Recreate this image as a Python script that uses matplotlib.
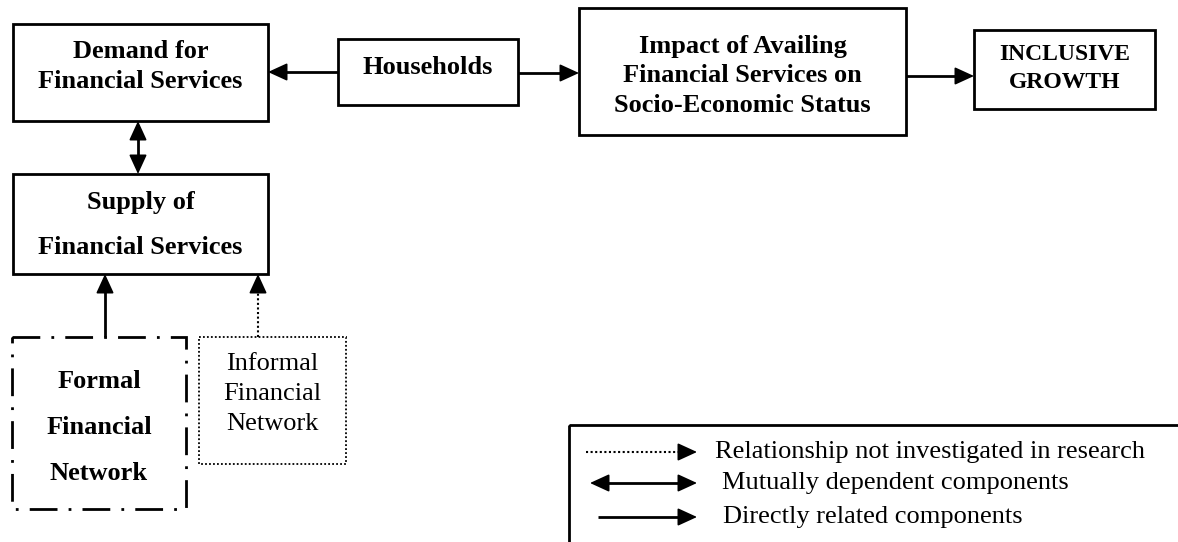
import matplotlib
matplotlib.use("Agg")
import matplotlib.pyplot as plt
from matplotlib.patches import Rectangle, FancyArrowPatch

plt.rcParams['font.family'] = ['Liberation Serif', 'DejaVu Serif']

# box texts
box_names = ["demand", "households", "impact", "inclusive", "supply", "formal", "informal"]
box_lines = [
    ["Demand for", "Financial Services"],
    ["Households"],
    ["Impact of Availing", "Financial Services on", "Socio-Economic Status"],
    ["INCLUSIVE", "GROWTH"],
    ["Supply of", "Financial Services"],
    ["Formal", "Financial", "Network"],
    ["Informal", "Financial", "Network"],
]
# links between boxes: (from, to, kind)
links = [
    ("households", "demand", "direct"),
    ("households", "impact", "direct"),
    ("impact", "inclusive", "direct"),
    ("demand", "supply", "mutual"),
    ("formal", "supply", "direct"),
    ("informal", "supply", "dotted"),
]
legend_labels = [
    "Relationship not investigated in research",
    "Mutually dependent components",
    "Directly related components",
]
legend_kinds = ["dotted", "mutual", "direct"]

# layout in pixels (x0, y0, x1, y1), text line y centres
layout = {
    "demand":     dict(box=(13, 24, 268, 121), ys=[52, 82], size=19, weight="bold", ls="-"),
    "households": dict(box=(338, 39, 518, 105), ys=[68], size=19, weight="bold", ls="-"),
    "impact":     dict(box=(579, 8, 906, 135), ys=[46, 76, 105], size=19, weight="bold", ls="-"),
    "inclusive":  dict(box=(974, 30, 1155, 109), ys=[55, 83], size=17, weight="bold", ls="-"),
    "supply":     dict(box=(13, 174, 268, 274), ys=[202, 248], size=19, weight="bold", ls="-"),
    "formal":     dict(box=(12, 337, 186, 509), ys=[381, 427, 473], size=19, weight="bold",
                       ls=(0, (10, 4, 1, 4))),
    "informal":   dict(box=(199, 337, 346, 464), ys=[364, 394, 424], size=19, weight="normal",
                       ls=(0, (1, 1.2))),
}
link_points = {
    ("households", "demand"): ((338, 72), (268, 72)),
    ("households", "impact"): ((518, 73), (579, 73)),
    ("impact", "inclusive"): ((906, 76), (974, 76)),
    ("demand", "supply"): ((138, 121), (138, 174)),
    ("formal", "supply"): ((105, 337), (105, 274)),
    ("informal", "supply"): ((258, 337), (258, 274)),
}

W, H = 1178, 542
fig = plt.figure(figsize=(W / 100, H / 100), dpi=100)
ax = fig.add_axes([0, 0, 1, 1])
ax.set_xlim(0, W)
ax.set_ylim(H, 0)
ax.axis("off")


def head(p_from, p_to):
    ax.add_patch(FancyArrowPatch(p_from, p_to, arrowstyle="-|>,head_length=1.2,head_width=0.55",
                                 mutation_scale=10, color="black", lw=1.2,
                                 shrinkA=0, shrinkB=0))


def arrow(p0, p1, kind, hl=16):
    (x0, y0), (x1, y1) = p0, p1
    dx, dy = x1 - x0, y1 - y0
    n = (dx ** 2 + dy ** 2) ** 0.5
    ux, uy = dx / n, dy / n
    sx, sy = (x0 + ux * hl, y0 + uy * hl) if kind == "mutual" else (x0, y0)
    ex, ey = x1 - ux * hl, y1 - uy * hl
    if kind == "dotted":
        ax.plot([sx, ex], [sy, ey], color="black", lw=1.5,
                ls=(0, (1, 1.2)), solid_capstyle="butt")
    else:
        ax.plot([sx, ex], [sy, ey], color="black", lw=2.0, solid_capstyle="butt")
    head((ex, ey), (x1, y1))
    if kind == "mutual":
        head((sx, sy), (x0, y0))


for name, lines in zip(box_names, box_lines):
    lay = layout[name]
    x0, y0, x1, y1 = lay["box"]
    lw = 1.3 if name == "informal" else 2.0
    ax.add_patch(Rectangle((x0, y0), x1 - x0, y1 - y0, fill=False, ec="black",
                           lw=lw, ls=lay["ls"]))
    for text, y in zip(lines, lay["ys"]):
        ax.text((x0 + x1) / 2, y, text, ha="center", va="center",
                fontsize=lay["size"], fontweight=lay["weight"])

for a, b, kind in links:
    p0, p1 = link_points[(a, b)]
    arrow(p0, p1, kind)

# legend box, running off the page edge
ax.add_patch(Rectangle((569, 425), 700, 200, fill=False, ec="black", lw=2.0, clip_on=True))
legend_rows = [(586, 452, 715), (590, 483, 722), (598, 517, 723)]
for label, kind, (lx, ly, tx) in zip(legend_labels, legend_kinds, legend_rows):
    arrow((lx, ly), (697, ly), kind, hl=15)
    ax.text(tx, ly, label, ha="left", va="center", fontsize=19)

fig.savefig("out.png", dpi=100)
